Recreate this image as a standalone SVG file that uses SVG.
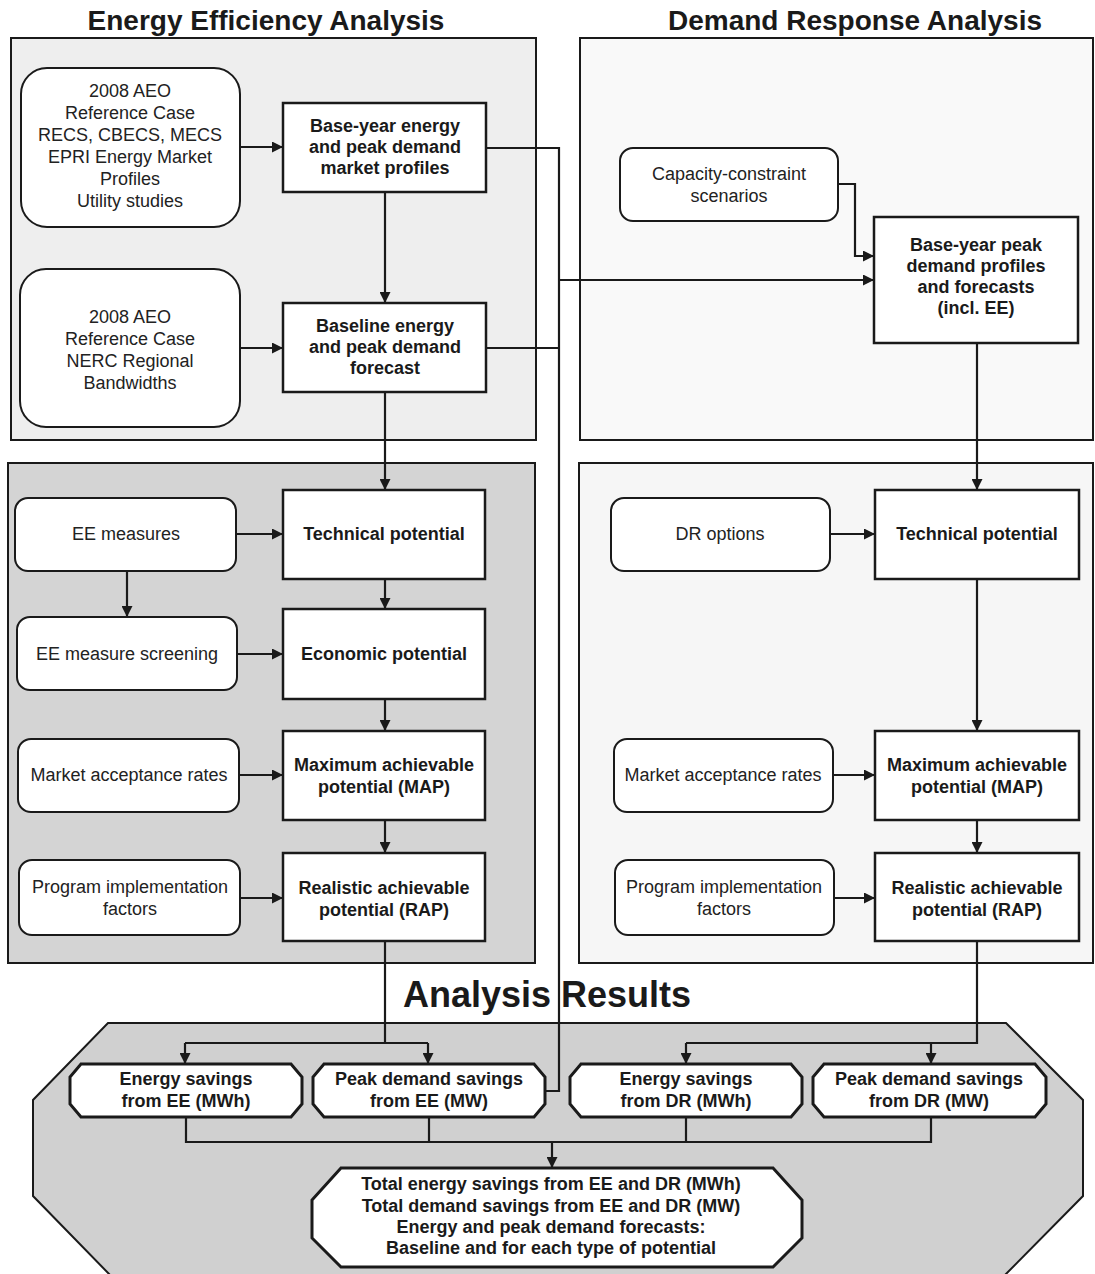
<svg xmlns="http://www.w3.org/2000/svg" width="1095" height="1274" viewBox="0 0 1095 1274">
<defs>
<marker id="ah" viewBox="0 0 10 10" refX="10" refY="5" markerWidth="11" markerHeight="11" markerUnits="userSpaceOnUse" orient="auto">
<path d="M0,0 L10,5 L0,10 z" fill="#1a1a1a"/>
</marker>
<style>
.title{font-family:"Liberation Sans",Arial,sans-serif;font-weight:bold;font-size:28px;fill:#1a1a1a;text-anchor:middle}
.big{font-family:"Liberation Sans",Arial,sans-serif;font-weight:bold;font-size:36px;fill:#1a1a1a;text-anchor:middle}
.panel{stroke:#1a1a1a;stroke-width:2}
.rnd{fill:#ffffff;stroke:#1a1a1a;stroke-width:2}
.box{fill:#ffffff;stroke:#1a1a1a;stroke-width:2.5}
.oct{fill:#ffffff;stroke:#1a1a1a;stroke-width:3}
.t{font-family:"Liberation Sans",Arial,sans-serif;font-size:18px;fill:#222;text-anchor:middle}
.b{font-family:"Liberation Sans",Arial,sans-serif;font-size:18px;font-weight:bold;fill:#1a1a1a;text-anchor:middle}
.bs{font-family:"Liberation Sans",Arial,sans-serif;font-size:18px;font-weight:bold;fill:#1a1a1a;text-anchor:middle}
.c{fill:none;stroke:#1a1a1a;stroke-width:2.2}
.ca{fill:none;stroke:#1a1a1a;stroke-width:2.2;marker-end:url(#ah)}
</style>
</defs>
<rect width="1095" height="1274" fill="#ffffff"/>

<g id="panels">
<rect x="11" y="38" width="525" height="402" fill="#eeeeee" class="panel"/>
<rect x="580" y="38" width="513" height="402" fill="#f9f9f9" class="panel"/>
<rect x="8" y="463" width="527" height="500" fill="#d4d4d4" class="panel"/>
<rect x="579" y="463" width="514" height="500" fill="#f6f6f6" class="panel"/>
<polygon points="108,1023 1006,1023 1083,1100 1083,1196 1003,1277 112,1277 33,1196 33,1100" fill="#d0d0d0" class="panel"/>
<text class="title" x="266" y="30">Energy Efficiency Analysis</text>
<text class="title" x="855" y="30">Demand Response Analysis</text>
<text class="big" x="547" y="1007">Analysis Results</text>
</g>

<g id="connectors">
<path class="ca" d="M240,147 H283"/>
<path class="ca" d="M240,348 H283"/>
<path class="ca" d="M385,192 V303"/>
<path class="c" d="M486,148 H559 V1091 H545"/>
<path class="c" d="M486,348 H559"/>
<path class="ca" d="M559,280 H874"/>
<path class="ca" d="M838,184 H855 V256 H874"/>
<path class="ca" d="M977,343 V490"/>
<path class="ca" d="M385,392 V490"/>
<path class="ca" d="M236,534 H283"/>
<path class="ca" d="M127,571 V617"/>
<path class="ca" d="M385,579 V609"/>
<path class="ca" d="M237,654 H283"/>
<path class="ca" d="M385,699 V731"/>
<path class="ca" d="M239,775 H283"/>
<path class="ca" d="M385,820 V853"/>
<path class="ca" d="M240,898 H283"/>
<path class="ca" d="M830,534 H875"/>
<path class="ca" d="M977,579 V731"/>
<path class="ca" d="M833,775 H875"/>
<path class="ca" d="M977,820 V853"/>
<path class="ca" d="M834,898 H875"/>
<path class="c" d="M385,941 V1043"/>
<path class="c" d="M185,1043 H428"/>
<path class="ca" d="M185,1043 V1064"/>
<path class="ca" d="M428,1043 V1064"/>
<path class="c" d="M977,941 V1043 H686"/>
<path class="ca" d="M686,1043 V1064"/>
<path class="ca" d="M931,1043 V1064"/>
<path class="c" d="M186,1117 V1142 H931 V1117"/>
<path class="c" d="M429,1117 V1142"/>
<path class="c" d="M686,1117 V1142"/>
<path class="ca" d="M552,1142 V1168"/>
</g>

<g id="n-sources1">
<rect class="rnd" x="21" y="68" width="219" height="159" rx="26"/>
<text class="t" x="130" y="97">2008 AEO</text>
<text class="t" x="130" y="119">Reference Case</text>
<text class="t" x="130" y="141">RECS, CBECS, MECS</text>
<text class="t" x="130" y="163">EPRI Energy Market</text>
<text class="t" x="130" y="185">Profiles</text>
<text class="t" x="130" y="207">Utility studies</text>
</g>
<g id="n-sources2">
<rect class="rnd" x="20" y="269" width="220" height="158" rx="26"/>
<text class="t" x="130" y="323">2008 AEO</text>
<text class="t" x="130" y="345">Reference Case</text>
<text class="t" x="130" y="367">NERC Regional</text>
<text class="t" x="130" y="389">Bandwidths</text>
</g>
<g id="n-baseyear">
<rect class="box" x="283" y="103" width="203" height="89"/>
<text class="b" x="385" y="132">Base-year energy</text>
<text class="b" x="385" y="153">and peak demand</text>
<text class="b" x="385" y="174">market profiles</text>
</g>
<g id="n-baseline">
<rect class="box" x="283" y="303" width="203" height="89"/>
<text class="b" x="385" y="332">Baseline energy</text>
<text class="b" x="385" y="353">and peak demand</text>
<text class="b" x="385" y="374">forecast</text>
</g>
<g id="n-capacity">
<rect class="rnd" x="620" y="148" width="218" height="73" rx="13"/>
<text class="t" x="729" y="180">Capacity-constraint</text>
<text class="t" x="729" y="202">scenarios</text>
</g>
<g id="n-dr-baseyear">
<rect class="box" x="874" y="217" width="204" height="126"/>
<text class="b" x="976" y="251">Base-year peak</text>
<text class="b" x="976" y="272">demand profiles</text>
<text class="b" x="976" y="293">and forecasts</text>
<text class="b" x="976" y="314">(incl. EE)</text>
</g>

<g id="n-ee-measures">
<rect class="rnd" x="15" y="498" width="221" height="73" rx="13"/>
<text class="t" x="126" y="540">EE measures</text>
</g>
<g id="n-ee-tech">
<rect class="box" x="283" y="490" width="202" height="89"/>
<text class="b" x="384" y="540">Technical potential</text>
</g>
<g id="n-ee-screening">
<rect class="rnd" x="17" y="617" width="220" height="73" rx="13"/>
<text class="t" x="127" y="660">EE measure screening</text>
</g>
<g id="n-ee-econ">
<rect class="box" x="283" y="609" width="202" height="90"/>
<text class="b" x="384" y="660">Economic potential</text>
</g>
<g id="n-ee-market">
<rect class="rnd" x="18" y="739" width="221" height="73" rx="13"/>
<text class="t" x="129" y="781">Market acceptance rates</text>
</g>
<g id="n-ee-map">
<rect class="box" x="283" y="731" width="202" height="89"/>
<text class="b" x="384" y="771">Maximum achievable</text>
<text class="b" x="384" y="793">potential (MAP)</text>
</g>
<g id="n-ee-program">
<rect class="rnd" x="19" y="860" width="221" height="75" rx="13"/>
<text class="t" x="130" y="893">Program implementation</text>
<text class="t" x="130" y="915">factors</text>
</g>
<g id="n-ee-rap">
<rect class="box" x="283" y="853" width="202" height="88"/>
<text class="b" x="384" y="894">Realistic achievable</text>
<text class="b" x="384" y="916">potential (RAP)</text>
</g>

<g id="n-dr-options">
<rect class="rnd" x="611" y="498" width="219" height="73" rx="13"/>
<text class="t" x="720" y="540">DR options</text>
</g>
<g id="n-dr-tech">
<rect class="box" x="875" y="490" width="204" height="89"/>
<text class="b" x="977" y="540">Technical potential</text>
</g>
<g id="n-dr-market">
<rect class="rnd" x="614" y="739" width="219" height="73" rx="13"/>
<text class="t" x="723" y="781">Market acceptance rates</text>
</g>
<g id="n-dr-map">
<rect class="box" x="875" y="731" width="204" height="89"/>
<text class="b" x="977" y="771">Maximum achievable</text>
<text class="b" x="977" y="793">potential (MAP)</text>
</g>
<g id="n-dr-program">
<rect class="rnd" x="615" y="860" width="219" height="75" rx="13"/>
<text class="t" x="724" y="893">Program implementation</text>
<text class="t" x="724" y="915">factors</text>
</g>
<g id="n-dr-rap">
<rect class="box" x="875" y="853" width="204" height="88"/>
<text class="b" x="977" y="894">Realistic achievable</text>
<text class="b" x="977" y="916">potential (RAP)</text>
</g>

<g id="n-res-ee-energy">
<polygon class="oct" points="81,1064 291,1064 302,1077 302,1104 291,1117 81,1117 70,1104 70,1077"/>
<text class="bs" x="186" y="1085">Energy savings</text>
<text class="bs" x="186" y="1107">from EE (MWh)</text>
</g>
<g id="n-res-ee-peak">
<polygon class="oct" points="324,1064 534,1064 545,1077 545,1104 534,1117 324,1117 313,1104 313,1077"/>
<text class="bs" x="429" y="1085">Peak demand savings</text>
<text class="bs" x="429" y="1107">from EE (MW)</text>
</g>
<g id="n-res-dr-energy">
<polygon class="oct" points="581,1064 791,1064 802,1077 802,1104 791,1117 581,1117 570,1104 570,1077"/>
<text class="bs" x="686" y="1085">Energy savings</text>
<text class="bs" x="686" y="1107">from DR (MWh)</text>
</g>
<g id="n-res-dr-peak">
<polygon class="oct" points="824,1064 1035,1064 1046,1077 1046,1104 1035,1117 824,1117 813,1104 813,1077"/>
<text class="bs" x="929" y="1085">Peak demand savings</text>
<text class="bs" x="929" y="1107">from DR (MW)</text>
</g>
<g id="n-res-total">
<polygon class="oct" points="341,1168 773,1168 802,1200 802,1238 773,1267 341,1267 312,1238 312,1200"/>
<text class="bs" x="551" y="1190">Total energy savings from EE and DR (MWh)</text>
<text class="bs" x="551" y="1212">Total demand savings from EE and DR (MW)</text>
<text class="bs" x="551" y="1233">Energy and peak demand forecasts:</text>
<text class="bs" x="551" y="1254">Baseline and for each type of potential</text>
</g>
</svg>
